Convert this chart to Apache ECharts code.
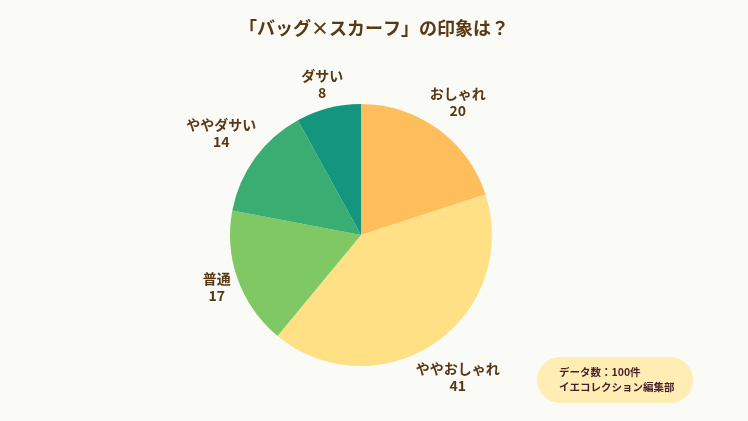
<!DOCTYPE html>
<html>
<head>
<meta charset="utf-8">
<script src="https://cdn.jsdelivr.net/npm/echarts@6/dist/echarts.min.js"></script>
<style>
  html, body { margin: 0; padding: 0; background: #fafaf7; }
  #chart { width: 748px; height: 421px; }
</style>
</head>
<body>
<div id="chart"></div>
<script>
const categories = ["おしゃれ", "ややおしゃれ", "普通", "ややダサい", "ダサい"];
const values = [20, 41, 17, 14, 8];
const colors = ["#ffbe5c", "#ffe085", "#80c863", "#3aae72", "#13967d"];
const noteLines = ["データ数：100件", "イエコレクション編集部"];

const chart = echarts.init(document.getElementById("chart"));
const font = "'Noto Sans CJK JP', 'Noto Sans', sans-serif";
const cx = 361, cy = 235, radius = 131;

chart.setOption({
  backgroundColor: "#fafaf7",
  color: colors,
  title: {
    text: "「バッグ×スカーフ」の印象は？",
    left: "center",
    top: 14,
    textStyle: { fontFamily: font, fontSize: 18, fontWeight: "bold", color: "#5a3813" }
  },
  series: [{
    type: "pie",
    center: [cx, cy],
    radius: radius,
    startAngle: 90,
    animation: false,
    label: {
      show: true,
      position: "inside",
      formatter: "{b}\n{c}",
      fontFamily: font,
      fontSize: 14,
      fontWeight: "bold",
      color: "#5a3813",
      lineHeight: 17,
      align: "center"
    },
    labelLine: { show: false },
    // push each label out along its slice so the box edge sits just off the rim
    labelLayout: function (p) {
      const r = p.labelRect;
      const dx = r.x + r.width / 2 - cx;
      const dy = r.y + r.height / 2 - cy;
      const d = Math.hypot(dx, dy) || 1;
      const s = dx / d, c = dy / d;
      const R = radius + 3.5 + r.width / 2 * Math.abs(s) + r.height / 2 * Math.abs(c);
      return { x: cx + R * s, y: cy + R * c };
    },
    data: categories.map((name, i) => ({ name: name, value: values[i] }))
  }],
  graphic: [{
    type: "group",
    left: 537,
    top: 357,
    children: [{
      type: "rect",
      shape: { x: 0, y: 0, width: 156, height: 46, r: 23 },
      style: { fill: "#ffedb3" }
    }, {
      type: "text",
      left: 22,
      top: 8,
      style: {
        text: noteLines.join("\n"),
        fontFamily: font,
        fontSize: 10.5,
        fontWeight: "bold",
        lineHeight: 15,
        fill: "#4a1f2a"
      }
    }]
  }]
});
</script>
</body>
</html>
